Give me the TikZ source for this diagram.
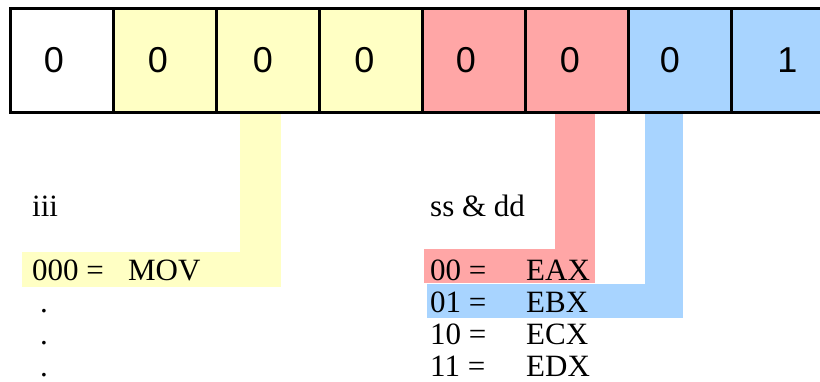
\documentclass[tikz,border=0pt]{standalone}
\usepackage{fontspec}
\setmainfont{Liberation Serif}
\newfontfamily\bitfont{Liberation Sans}
\usetikzlibrary{calc,backgrounds}
\definecolor{opyellow}{RGB}{255,255,196}
\definecolor{regred}{RGB}{255,166,166}
\definecolor{regblue}{RGB}{168,212,255}
\newcommand{\regrow}[2]{\makebox[96pt][l]{#1}#2}

\begin{document}
\begin{tikzpicture}[x=1pt, y=-1pt,
    bit/.style={draw=black, line width=2.6pt, minimum width=103pt, minimum height=104pt,
      anchor=north west, inner sep=0pt, font=\bitfont\fontsize{36}{42}\selectfont},
    hl/.style={inner sep=0pt, anchor=north west},
    txt/.style={inner sep=0pt, anchor=base west, font=\fontsize{31}{36}\selectfont}]
  \useasboundingbox (0,0) rectangle (820,381);
  % instruction bits: value / fill / text offset
  \foreach \val/\col/\off [count=\i from 0] in {0/white/-16pt,0/opyellow/-14pt,0/opyellow/-10pt,
      0/opyellow/-13pt,0/regred/-16pt,0/regred/-14pt,0/regblue/-20pt,1/regblue/9pt}
    \node[bit, fill=\col, execute at begin node={\hspace*{\off}}] (b\i) at (9+103*\i,7) {\val};
  % highlighted rows
  \node[hl, fill=opyellow, minimum width=259pt, minimum height=35pt] (movhl) at (22,252) {};
  \node[hl, fill=regred, minimum width=171pt, minimum height=34pt] (eaxhl) at (424,249) {};
  \node[hl, fill=regblue, minimum width=256pt, minimum height=34pt] (ebxhl) at (427,284) {};
  % bands from the bits down to the rows
  \begin{scope}[on background layer]
    \fill[opyellow] ($(movhl.north east)+(-41,0)$) rectangle (movhl.north east |- b2.south);
    \fill[regred] ($(eaxhl.north east)+(-40,0)$) rectangle (eaxhl.north east |- b5.south);
    \fill[regblue] ($(ebxhl.north east)+(-38,0)$) rectangle (ebxhl.north east |- b6.south);
  \end{scope}
  % opcode table
  \node[txt] (iii) at (32,216) {iii};
  \node[txt] (mov) at (32,280) {\regrow{000 =}{MOV}};
  \foreach \y [count=\k] in {312,344,376}
    \node[txt] (dot\k) at (40,\y) {.};
  % register table
  \node[txt] (ssdd) at (430,216) {ss \& dd};
  \node[txt] (eax) at (430,280) {\regrow{00 =}{EAX}};
  \node[txt] (ebx) at (430,312) {\regrow{01 =}{EBX}};
  \node[txt] (ecx) at (430,344) {\regrow{10 =}{ECX}};
  \node[txt] (edx) at (430,376) {\regrow{11 =}{EDX}};
\end{tikzpicture}
\end{document}
